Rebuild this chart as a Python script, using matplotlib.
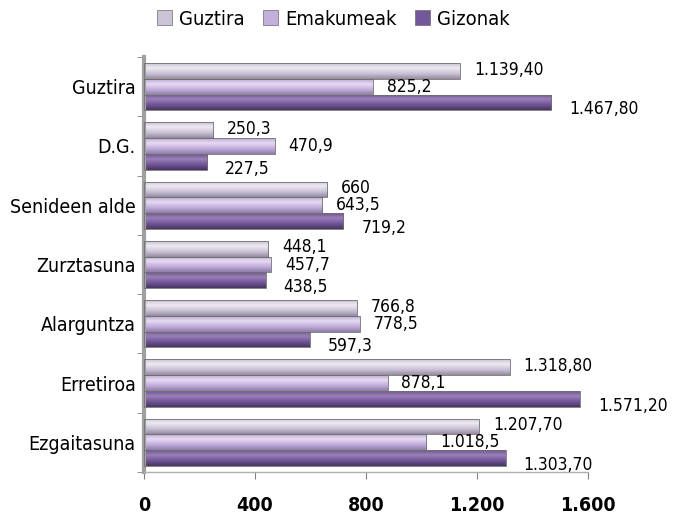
import numpy as np
import matplotlib
matplotlib.use("Agg")
import matplotlib.pyplot as plt
from matplotlib.ticker import FuncFormatter
from matplotlib.patches import Patch
from matplotlib.colors import LinearSegmentedColormap

plt.rcParams['font.family'] = ['DejaVu Sans']
plt.rcParams['font.stretch'] = 'condensed'

# Categories, top to bottom as in the chart
categories = ["Guztira", "D.G.", "Senideen alde", "Zurztasuna",
              "Alarguntza", "Erretiroa", "Ezgaitasuna"]

guztira = [1139.4, 250.3, 660.0, 448.1, 766.8, 1318.8, 1207.7]
emakumeak = [825.2, 470.9, 643.5, 457.7, 778.5, 878.1, 1018.5]
gizonak = [1467.8, 227.5, 719.2, 438.5, 597.3, 1571.2, 1303.7]

guztira_lbl = ["1.139,40", "250,3", "660", "448,1", "766,8", "1.318,80", "1.207,70"]
emakumeak_lbl = ["825,2", "470,9", "643,5", "457,7", "778,5", "878,1", "1.018,5"]
gizonak_lbl = ["1.467,80", "227,5", "719,2", "438,5", "597,3", "1.571,20", "1.303,70"]

xticks = [0, 400, 800, 1200, 1600]

# name, values, labels, (top, highlight, body, bottom) shades, label offset
series = [
    ("Guztira", guztira, guztira_lbl,
     ["#c9c1d3", "#eeeaf3", "#cbc3d6", "#958ca2"], (10, 1)),
    ("Emakumeak", emakumeak, emakumeak_lbl,
     ["#bba8d4", "#e6dbf2", "#c3afdc", "#8f7ca9"], (10, 0)),
    ("Gizonak", gizonak, gizonak_lbl,
     ["#6e5590", "#9a80b8", "#72579a", "#47355f"], (13, -5)),
]

fig = plt.figure(figsize=(6.78, 5.16), dpi=100)
ax = fig.add_axes([0.2124, 0.0853, 0.6544, 0.8042])

y = np.arange(len(categories))
h = 0.265
offsets = [-h, 0, h]
grad = np.linspace(0, 1, 64).reshape(-1, 1)

for (name, vals, lbls, shades, (dx, dy)), off in zip(series, offsets):
    pos = y + off
    cmap = LinearSegmentedColormap.from_list(
        name, list(zip([0, 0.3, 0.65, 1], shades)))
    bars = ax.barh(pos, vals, height=h, color=shades[2], linewidth=0, zorder=2)
    # vertical gradient inside every bar (cylinder look)
    for b in bars:
        x0, y0 = b.get_x(), b.get_y()
        im = ax.imshow(grad, cmap=cmap, aspect="auto", zorder=2.5,
                       extent=(x0, x0 + b.get_width(), y0 + h, y0))
        im.set_clip_path(b)
    # outline on top
    ax.barh(pos, vals, height=h, fill=False, edgecolor="#707070",
            linewidth=0.6, zorder=3)
    for p, v, t in zip(pos, vals, lbls):
        ax.annotate(t, (v, p), xytext=(dx, dy), textcoords="offset points",
                    ha="left", va="center", fontsize=12.5, color="black",
                    zorder=4)

ax.set_ylim(len(categories) - 0.5, -0.5)
ax.set_xlim(0, 1600)
ax.set_yticks(y)
ax.set_yticklabels(categories, fontsize=14)
ax.set_yticks(np.arange(len(categories) + 1) - 0.5, minor=True)
ax.tick_params(axis="y", which="major", length=0, pad=6)
ax.tick_params(axis="y", which="minor", length=5, color="#808080")
ax.set_xticks(xticks)
ax.xaxis.set_major_formatter(FuncFormatter(lambda v, p: f"{int(v):,}".replace(",", ".")))
ax.tick_params(axis="x", length=5, color="#808080", labelsize=14, pad=12)
for t in ax.get_xticklabels():
    t.set_fontweight("bold")

for s in ["top", "right"]:
    ax.spines[s].set_visible(False)
ax.spines["left"].set_color("#a0a0a0")
ax.spines["left"].set_linewidth(3)
ax.spines["bottom"].set_color("#b0b0b0")
ax.spines["bottom"].set_linewidth(1)

handles = [Patch(facecolor=s[3][2], edgecolor="#6a6a6a", linewidth=0.5, label=s[0])
           for s in series]
fig.legend(handles=handles, loc="upper left", bbox_to_anchor=(0.205, 1.016),
           ncol=3, frameon=False, fontsize=14.5, handlelength=0.75,
           handleheight=0.75, handletextpad=0.35, columnspacing=0.9)

fig.savefig("out.png", dpi=100)
